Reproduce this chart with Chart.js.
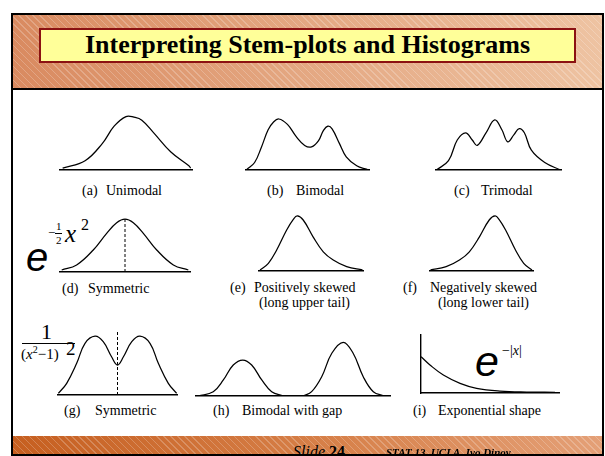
<!DOCTYPE html>
<html>
<head>
<meta charset="utf-8">
<title>Interpreting Stem-plots and Histograms</title>
<script src="https://cdn.jsdelivr.net/npm/chart.js@4.4.0/dist/chart.umd.min.js"></script>
<style>
  html, body { margin: 0; padding: 0; }
  body { width: 605px; height: 456px; position: relative; overflow: hidden; background: #fff;
         font-family: "Liberation Serif", "Times New Roman", serif; color: #000; }
  .abs { position: absolute; white-space: nowrap; }
  #frame { left: 11px; top: 13px; width: 593px; height: 443px; border: 2px solid #000; box-sizing: border-box; z-index: 10; }
  #header { left: 13px; top: 15px; width: 589px; height: 73px; border-bottom: 2px solid #000;
            background: linear-gradient(90deg, #d98a60 0%, #e3a57f 45%, #eec3a2 100%); }
  #footer { left: 13px; top: 436px; width: 589px; height: 20px;
            background: linear-gradient(90deg, #c65f20 0%, #d7814a 55%, #e4a077 100%); }
  .hatch::after { content: ""; position: absolute; inset: 0;
                  background: repeating-linear-gradient(45deg, rgba(255,255,255,0.22) 0 1px, transparent 1px 5px); }
  #title { left: 39px; top: 28px; width: 537px; height: 35px; box-sizing: border-box; z-index: 2;
           background: #ffff99; border: 2.5px solid #8b1212; text-align: center;
           font-weight: bold; font-size: 26px; line-height: 30px; }
  .lbl { position: absolute; font-size: 14px; line-height: 16px; white-space: nowrap; }
  canvas { position: absolute; }
</style>
</head>
<body>
<div id="header" class="abs hatch"></div>
<div id="title" class="abs">Interpreting Stem-plots and Histograms</div>
<div id="footer" class="abs hatch"></div>
<div id="frame" class="abs"></div>

<!-- panel captions -->
<div class="lbl" style="left:82px;top:183px;">(a)</div>
<div class="lbl" style="left:106px;top:183px;">Unimodal</div>
<div class="lbl" style="left:267px;top:183px;">(b)</div>
<div class="lbl" style="left:296px;top:183px;">Bimodal</div>
<div class="lbl" style="left:454px;top:183px;">(c)</div>
<div class="lbl" style="left:481px;top:183px;">Trimodal</div>

<div class="lbl" style="left:62px;top:281px;">(d)</div>
<div class="lbl" style="left:88px;top:281px;">Symmetric</div>
<div class="lbl" style="left:230px;top:280px;">(e)</div>
<div class="lbl" style="left:254px;top:280px;">Positively skewed</div>
<div class="lbl" style="left:259px;top:295px;">(long upper tail)</div>
<div class="lbl" style="left:403px;top:280px;">(f)</div>
<div class="lbl" style="left:430px;top:280px;">Negatively skewed</div>
<div class="lbl" style="left:438px;top:295px;">(long lower tail)</div>

<div class="lbl" style="left:64px;top:403px;">(g)</div>
<div class="lbl" style="left:95px;top:403px;">Symmetric</div>
<div class="lbl" style="left:213px;top:403px;">(h)</div>
<div class="lbl" style="left:242px;top:403px;">Bimodal with gap</div>
<div class="lbl" style="left:413px;top:403px;">(i)</div>
<div class="lbl" style="left:438px;top:403px;">Exponential shape</div>

<!-- formulas -->
<div class="abs" style="left:26px;top:237px;font:italic 40px 'Liberation Sans';line-height:40px;">e</div>
<div class="abs" style="left:48px;top:226px;font:13px 'Liberation Serif';line-height:13px;">−</div>
<div class="abs" style="left:56px;top:221px;font:11px 'Liberation Serif';line-height:11px;">1</div>
<div class="abs" style="left:55px;top:233px;width:7px;height:1px;background:#000;"></div>
<div class="abs" style="left:56px;top:235px;font:11px 'Liberation Serif';line-height:11px;">2</div>
<div class="abs" style="left:65px;top:221px;font:italic 25px 'Liberation Serif';line-height:25px;">x</div>
<div class="abs" style="left:81px;top:217px;font:16px 'Liberation Serif';line-height:16px;">2</div>

<div class="abs" style="left:41px;top:321px;font:22px 'Liberation Serif';line-height:22px;">1</div>
<div class="abs" style="left:22px;top:343px;width:53px;height:1px;background:#000;"></div>
<div class="abs" style="left:21px;top:347px;font:15px 'Liberation Serif';line-height:15px;">(<i>x</i><span style="font-size:10px;position:relative;top:-6px;">2</span>−1)</div>
<div class="abs" style="left:66px;top:339px;font:19px 'Liberation Serif';line-height:19px;">2</div>

<div class="abs" style="left:475px;top:340px;font:italic 43px 'Liberation Sans';line-height:43px;">e</div>
<div class="abs" style="left:502px;top:344px;font:14px 'Liberation Serif';line-height:14px;">−|<i>x</i>|</div>

<canvas id="pa"></canvas><canvas id="pb"></canvas><canvas id="pc"></canvas>
<canvas id="pd"></canvas><canvas id="pe"></canvas><canvas id="pf"></canvas>
<canvas id="pg"></canvas><canvas id="ph"></canvas><canvas id="pi"></canvas>

<script>
// Curve shapes (x: 0..1 across each baseline, y: height in curve units)
const unimodalX = [0.02, 0.19, 0.32, 0.41, 0.50, 0.56, 0.62, 0.71, 0.84, 0.976, 0.99];
const unimodalY = [0.03, 0.155, 0.44, 0.73, 0.89, 0.88, 0.83, 0.62, 0.30, 0.07, 0.03];

const bimodalX = [0.007, 0.07, 0.126, 0.18, 0.224, 0.267, 0.337, 0.407, 0.477, 0.533, 0.59, 0.63, 0.666, 0.70, 0.76, 0.815, 0.90, 0.985];
const bimodalY = [0.01, 0.125, 0.385, 0.67, 0.80, 0.85, 0.76, 0.56, 0.41, 0.385, 0.49, 0.66, 0.73, 0.685, 0.44, 0.22, 0.07, 0.01];

const trimodalX = [0.002, 0.10, 0.17, 0.237, 0.29, 0.33, 0.40, 0.47, 0.527, 0.574, 0.624, 0.666, 0.707, 0.763, 0.87, 0.998];
const trimodalY = [0, 0.155, 0.50, 0.62, 0.50, 0.41, 0.62, 0.835, 0.67, 0.47, 0.59, 0.69, 0.62, 0.33, 0.125, 0];

const symmetricX = [0.013, 0.128, 0.256, 0.359, 0.436, 0.5, 0.564, 0.641, 0.744, 0.872, 0.987];
const symmetricY = [0.033, 0.117, 0.367, 0.645, 0.82, 0.88, 0.82, 0.645, 0.367, 0.117, 0.033];

const posSkewX = [0.01, 0.09, 0.17, 0.266, 0.33, 0.368, 0.425, 0.52, 0.618, 0.714, 0.843, 0.995];
const posSkewY = [0.017, 0.128, 0.35, 0.683, 0.86, 0.917, 0.85, 0.57, 0.32, 0.183, 0.072, 0.017];

const negSkewX = [0.005, 0.157, 0.286, 0.382, 0.48, 0.575, 0.632, 0.67, 0.734, 0.83, 0.91, 0.99];
const negSkewY = [0.017, 0.072, 0.183, 0.32, 0.57, 0.85, 0.917, 0.86, 0.683, 0.35, 0.128, 0.017];

const symBimodalX = [0.003, 0.073, 0.157, 0.227, 0.311, 0.38, 0.45, 0.5, 0.55, 0.62, 0.689, 0.773, 0.843, 0.927, 0.997];
const symBimodalY = [0.028, 0.195, 0.528, 0.862, 0.98, 0.888, 0.638, 0.5, 0.638, 0.888, 0.98, 0.862, 0.528, 0.195, 0.028];

const gapLeftX = [0.012, 0.089, 0.141, 0.192, 0.241, 0.287, 0.339, 0.39, 0.45];
const gapLeftY = [0, 0.072, 0.267, 0.517, 0.6, 0.517, 0.267, 0.072, 0];
const gapRightX = [0.553, 0.596, 0.648, 0.70, 0.759, 0.81, 0.862, 0.914, 0.969];
const gapRightY = [0, 0.072, 0.322, 0.712, 0.895, 0.712, 0.322, 0.072, 0];

const expX = [0, 0.065, 0.162, 0.283, 0.403, 0.572, 0.766, 0.971];
const expY = [0.626, 0.483, 0.31, 0.167, 0.081, 0.034, 0.017, 0.012];

// dashed centre lines (x position, top)
const dashSymX = [0.5, 0.5];
const dashSymY = [0, 0.9];
const dashBiX = [0.5, 0.5];
const dashBiY = [0, 1.05];

const pts = (xs, ys) => xs.map((x, i) => ({ x: x, y: ys[i] }));

const curve = (xs, ys) => ({ data: pts(xs, ys) });
const dashed = (xs, ys) => ({ data: pts(xs, ys), borderDash: [3, 2], borderWidth: 1, tension: 0 });

// panel placement on the slide
const panels = [
    { id: 'pa', x0: 60, x1: 192, base: 170, h: 69, yMax: 1.15, sets: [curve(unimodalX, unimodalY)] },
    { id: 'pb', x0: 246, x1: 369, base: 170, h: 69, yMax: 1.15, sets: [curve(bimodalX, bimodalY)] },
    { id: 'pc', x0: 436, x1: 561, base: 170, h: 69, yMax: 1.15, sets: [curve(trimodalX, trimodalY)] },
    { id: 'pd', x0: 60, x1: 190, base: 272, h: 69, yMax: 1.15, sets: [curve(symmetricX, symmetricY), dashed(dashSymX, dashSymY)] },
    { id: 'pe', x0: 259, x1: 363, base: 271, h: 69, yMax: 1.15, sets: [curve(posSkewX, posSkewY)] },
    { id: 'pf', x0: 430, x1: 533, base: 271, h: 69, yMax: 1.15, sets: [curve(negSkewX, negSkewY)] },
    { id: 'pg', x0: 58, x1: 177, base: 395, h: 69, yMax: 1.15, sets: [curve(symBimodalX, symBimodalY), dashed(dashBiX, dashBiY)] },
    { id: 'ph', x0: 196, x1: 390, base: 396, h: 69, yMax: 1.15, sets: [curve(gapLeftX, gapLeftY), curve(gapRightX, gapRightY)] },
    { id: 'pi', x0: 421, x1: 559, base: 393, h: 58, yMax: 1, yAxis: true, sets: [curve(expX, expY)] }
];

function drawPanel(p) {
    const canvas = document.getElementById(p.id);
    canvas.width = p.x1 - p.x0 + 4;
    canvas.height = p.h + 3;
    canvas.style.left = (p.x0 - 2) + 'px';
    canvas.style.top = (p.base - p.h - 1) + 'px';

    new Chart(canvas, {
        type: 'line',
        data: { datasets: p.sets },
        options: {
            responsive: false,
            animation: false,
            events: [],
            layout: { padding: { left: 2, right: 2, top: 1, bottom: 2 }, autoPadding: false },
            elements: {
                point: { radius: 0 },
                line: { borderColor: '#000', borderWidth: 1.25, tension: 0.4, fill: false }
            },
            plugins: { legend: { display: false }, tooltip: { enabled: false } },
            scales: {
                x: {
                    type: 'linear', min: 0, max: 1,
                    grid: { display: false, drawTicks: false },
                    ticks: { display: false },
                    border: { display: true, color: '#000', width: 1.6 }
                },
                y: {
                    type: 'linear', min: 0, max: p.yMax,
                    display: !!p.yAxis,
                    grid: { display: false, drawTicks: false },
                    ticks: { display: false },
                    border: { display: true, color: '#000', width: 1.4 }
                }
            }
        }
    });
}

panels.forEach(drawPanel);
</script>

<div class="abs" style="left:293px;top:444px;font-size:16px;line-height:16px;z-index:5;"><i>Slide</i> <b>24</b></div>
<div class="abs" style="left:386px;top:447px;font:italic bold 11px 'Liberation Serif';line-height:11px;z-index:5;">STAT 13, UCLA, Ivo Dinov</div>
</body>
</html>
